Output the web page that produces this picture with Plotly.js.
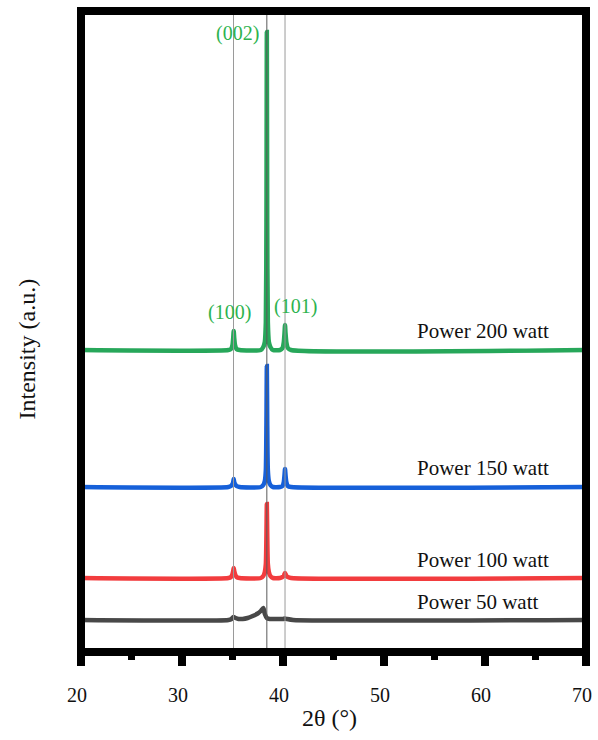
<!DOCTYPE html>
<html>
<head>
<meta charset="utf-8">
<script src="https://cdn.plot.ly/plotly-3.0.1.min.js"></script>
<style>html,body{margin:0;padding:0;background:#fff}#chart{width:598px;height:740px}</style>
</head>
<body>
<div id="chart"></div>
<script>
// 2θ grid for the sputtered films (degrees)
const twoTheta = [20, 34.6, 34.85, 35.0, 35.07, 35.12, 35.17, 35.25, 35.4, 35.7, 37.8, 38.05, 38.2, 38.3, 38.36, 38.4, 38.44, 38.5, 38.6, 38.75, 39.0, 39.7, 39.95, 40.08, 40.15, 40.2, 40.25, 40.33, 40.48, 40.8, 70];
// Intensities (a.u., stacked offsets)
const power200 = [302, 302, 303, 307, 314, 321, 314, 307, 303, 302, 302, 305, 310, 330, 430, 620, 430, 330, 310, 305, 302, 302, 304, 310, 319, 327, 319, 310, 304, 302, 302];
const power150 = [165, 165, 166, 168, 170, 173, 170, 168, 166, 165, 165, 167, 171, 182, 230, 286, 230, 182, 171, 167, 165, 165, 166, 170, 177, 183, 177, 170, 166, 165, 165];
const power100 = [74, 74, 75, 78, 81, 84, 81, 78, 75, 74, 74, 76, 80, 88, 118, 148, 118, 88, 80, 76, 74, 74, 75, 76, 78, 79, 78, 76, 75, 74, 74];
// Power 50 watt: broad, weak reflections
const twoTheta50 = [20, 34.6, 34.9, 35.1, 35.3, 35.6, 36.0, 36.5, 37.0, 37.5, 37.8, 38.05, 38.2, 38.4, 38.7, 39.5, 40.0, 40.2, 40.4, 41.0, 70];
const power50 = [32, 32, 33, 35, 34, 33, 33, 34, 36, 38.5, 41, 44, 38, 34, 33, 33, 33, 33.5, 33, 32, 32];

const seriesNames = ['Power 50 watt', 'Power 100 watt', 'Power 150 watt', 'Power 200 watt'];
const seriesColors = ['#484848', '#f23c3e', '#1660d9', '#27a75a'];
const peakPositions = [35.1, 38.4, 40.2];
const peakLabels = ['(100)', '(002)', '(101)'];
const xTicks = [20, 30, 40, 50, 60, 70];

const serif = '"Liberation Serif", "Times New Roman", Times, serif';
const xs = [twoTheta50, twoTheta, twoTheta, twoTheta];
const ys = [power50, power100, power150, power200];

const traces = ys.map((y, i) => ({
  x: xs[i], y: y, type: 'scatter', mode: 'lines', name: seriesNames[i],
  line: {color: seriesColors[i], width: 4.5, shape: 'spline', smoothing: 0.6},
  hoverinfo: 'skip'
}));

const shapes = peakPositions.map((p, i) => ({
  type: 'line', xref: 'x', yref: 'paper', x0: p, x1: p, y0: 0, y1: 1,
  line: {color: i === 1 ? '#5a5a5a' : '#9a9a9a', width: 1}, layer: 'above'
}));
shapes.push({type: 'rect', xref: 'paper', yref: 'paper', x0: 0, x1: 1, y0: 0, y1: 1,
  line: {color: '#000', width: 8}, layer: 'above'});

const annotations = [
  {x: 35.45, y: 619, text: peakLabels[1]},
  {x: 34.7, y: 340, text: peakLabels[0]},
  {x: 41.2, y: 346, text: peakLabels[2]}
].map(a => Object.assign(a, {xref: 'x', yref: 'y', showarrow: false,
  font: {family: serif, size: 20, color: '#2db34e'}, xanchor: 'center', yanchor: 'middle'}));

const labelY = [50, 92, 184, 321];
seriesNames.forEach((n, i) => annotations.push({
  x: 53.1, y: labelY[i], xref: 'x', yref: 'y', text: n, showarrow: false,
  xanchor: 'left', yanchor: 'middle', font: {family: serif, size: 21, color: '#111'}
}));
annotations.push({x: 0.5, y: 0, xref: 'paper', yref: 'paper', text: '2θ (°)', showarrow: false,
  xanchor: 'center', yanchor: 'middle', yshift: -66, xshift: -4, font: {family: serif, size: 24, color: '#111'}});
annotations.push({x: 0, y: 0.5, xref: 'paper', yref: 'paper', text: 'Intensity (a.u.)', showarrow: false,
  textangle: -90, xanchor: 'center', yanchor: 'middle', xshift: -55, yshift: -18,
  font: {family: serif, size: 24, color: '#111'}});

const layout = {
  width: 598, height: 740,
  margin: {l: 81, r: 12, t: 11, b: 88},
  paper_bgcolor: '#fff', plot_bgcolor: '#fff',
  showlegend: false,
  xaxis: {range: [20, 70], tickvals: xTicks, ticktext: xTicks.map(String),
    ticks: 'outside', ticklen: 13, tickwidth: 8, tickcolor: '#000',
    minor: {dtick: 5, tick0: 0, ticks: 'outside', ticklen: 7, tickwidth: 7, tickcolor: '#000'},
    showgrid: false, zeroline: false, showline: false, ticklabelstandoff: 12, ticklabelshift: -4,
    tickfont: {family: serif, size: 20, color: '#111'}, fixedrange: true},
  yaxis: {range: [0, 641], visible: false, fixedrange: true},
  shapes: shapes, annotations: annotations
};
Plotly.newPlot('chart', traces, layout, {staticPlot: true, displayModeBar: false});
</script>
</body>
</html>
